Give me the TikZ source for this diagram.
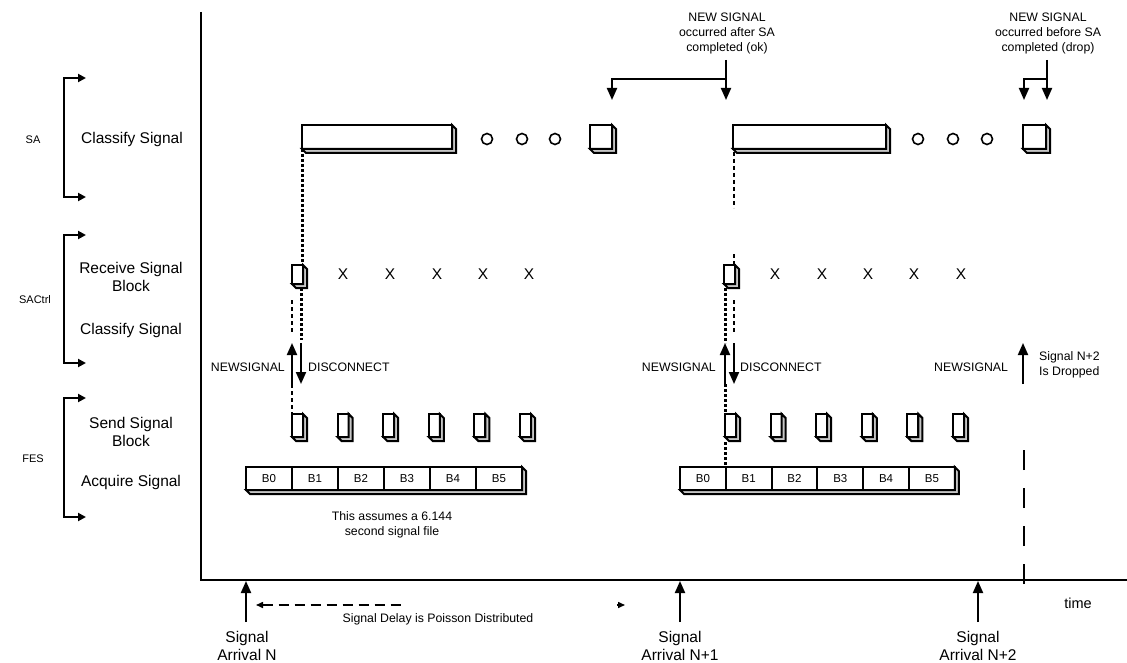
\documentclass[tikz,border=0pt]{standalone}
\usepackage{fontspec}
\setmainfont{Liberation Sans}
\usetikzlibrary{arrows.meta}
\newcommand\mkside[3]{\draw[side] (#2.north east) -- ([shift={(#3,#3)}]#2.north east) -- ([shift={(#3,#3)}]#2.south east) -- ([shift={(#3,#3)}]#1.south west) -- (#1.south west) -- (#2.south east) -- cycle;}
\begin{document}
\begin{tikzpicture}[x=1pt,y=-1pt,
  face/.style={draw, line width=2pt, fill=white, inner sep=0pt, outer sep=0pt, anchor=north west},
  side/.style={draw, line width=2pt, fill=gray!45, line join=miter},
  ring/.style={circle, draw, line width=1.6pt, minimum size=11pt, inner sep=0pt},
  big/.style={font=\fontsize{15.5}{18}\selectfont, align=center, inner sep=0pt},
  small/.style={font=\fontsize{12.3}{15}\selectfont, align=center, inner sep=0pt},
  tiny/.style={font=\fontsize{11}{13}\selectfont, inner sep=0pt},
  blab/.style={font=\fontsize{11.5}{13}\selectfont},
  axis/.style={line width=2.4pt, line join=miter},
  bracket/.style={line width=2pt, {Triangle[length=8pt,width=8pt]}-{Triangle[length=8pt,width=8pt]}},
  arr/.style={line width=2pt, -{Triangle[length=12pt,width=10pt]}},
  thickdot/.style={line width=3pt, dash pattern=on 3pt off 2pt},
  thindash/.style={line width=1.5pt, dash pattern=on 4pt off 3pt},
]
\path[use as bounding box] (0,0) rectangle (1127,663);

% axes
\coordinate (top) at (201,12);
\coordinate (orig) at (201,580);
\coordinate (xend) at (1127,580);
\draw[axis] (top) -- (orig) -- (xend);

% brackets and row labels
\coordinate (saT) at (86,78);  \coordinate (saB) at (86,197);
\coordinate (scT) at (86,235); \coordinate (scB) at (86,363);
\coordinate (feT) at (86,398); \coordinate (feB) at (86,517);
\draw[bracket] (saT) -- ++(-22,0) |- (saB);
\draw[bracket] (scT) -- ++(-22,0) |- (scB);
\draw[bracket] (feT) -- ++(-22,0) |- (feB);
\node[tiny] (lSA) at (33,140) {SA};
\node[tiny] (lSC) at (35,300) {SACtrl};
\node[tiny] (lFE) at (33,459) {FES};
\node[big] (tSA) at (132,139) {Classify Signal};
\node[big] (tRecv) at (131,277) {Receive Signal\\Block};
\node[big] (tCls) at (131,330) {Classify Signal};
\node[big] (tSend) at (131,432) {Send Signal\\Block};
\node[big] (tAcq) at (131,482) {Acquire Signal};

% SA row
\node[face, minimum width=150pt, minimum height=24pt] (sa1) at (302,125) {};
\mkside{sa1}{sa1}{4}
\node[ring] (o11) at (487,139) {};
\node[ring] (o12) at (522,139) {};
\node[ring] (o13) at (555,139) {};
\node[face, minimum width=22pt, minimum height=24pt] (sa1e) at (590,125) {};
\mkside{sa1e}{sa1e}{4}
\node[face, minimum width=153pt, minimum height=24pt] (sa2) at (733,125) {};
\mkside{sa2}{sa2}{4}
\node[ring] (o21) at (918,139) {};
\node[ring] (o22) at (953,139) {};
\node[ring] (o23) at (987,139) {};
\node[face, minimum width=23pt, minimum height=24pt] (sa2e) at (1023,125) {};
\mkside{sa2e}{sa2e}{4}

% top annotations
\node[small] (okL) at (727,33) {NEW SIGNAL\\occurred after SA\\completed (ok)};
\coordinate (okA) at (726,60); \coordinate (okT) at (726,100);
\coordinate (okB) at (726,79); \coordinate (okL2) at (612,100);
\draw[arr] (okA) -- (okT);
\draw[arr] (okB) -| (okL2);
\node[small] (drL) at (1048,33) {NEW SIGNAL\\occurred before SA\\completed (drop)};
\coordinate (drA) at (1047,60); \coordinate (drT) at (1047,100);
\coordinate (drB) at (1047,79); \coordinate (drL2) at (1024,100);
\draw[arr] (drA) -- (drT);
\draw[arr] (drB) -| (drL2);

% SACtrl row
\node[face, minimum width=11pt, minimum height=19pt] (r1) at (292,265) {};
\mkside{r1}{r1}{4}
\node[face, minimum width=11pt, minimum height=19pt] (r2) at (724,265) {};
\mkside{r2}{r2}{4}
\foreach \i/\x in {1/343,2/390,3/437,4/483,5/529}
  \node[big] (x1\i) at (\x,274) {X};
\foreach \i/\x in {1/775,2/822,3/868,4/914,5/961}
  \node[big] (x2\i) at (\x,274) {X};

% FES send blocks
\foreach \i in {0,...,5}{
  \node[face, minimum width=11pt, minimum height=23pt] (s1\i) at ({292+45.6*\i},414) {};
  \mkside{s1\i}{s1\i}{4}
  \node[face, minimum width=11pt, minimum height=23pt] (s2\i) at ({725+45.6*\i},414) {};
  \mkside{s2\i}{s2\i}{4}
}

% acquire blocks
\foreach \i in {0,...,5}{
  \node[face, blab, minimum width=46pt, minimum height=23pt] (a1\i) at ({246+46*\i},467) {B\i};
  \node[face, blab, minimum width=45.8pt, minimum height=23pt] (a2\i) at ({680+45.8*\i},467) {B\i};
}
\mkside{a10}{a15}{4}
\mkside{a20}{a25}{4}
\node[small] (assume) at (392,525) {This assumes a 6.144\\second signal file};

% group 1 timeline marks
\draw[thickdot] (sa1.south west) -- (sa1.south west |- r1.north);
\coordinate (g1d1) at (292,300); \coordinate (g1d2) at (292,334);
\coordinate (g1d3) at (292,384); \coordinate (g1d4) at (292,414);
\coordinate (g1t1) at (301,288); \coordinate (g1t2) at (301,340);
\draw[thindash] (g1d1) -- (g1d2);
\draw[thindash] (g1d3) -- (g1d4);
\draw[thickdot] (g1t1) -- (g1t2);
\coordinate (n1a) at (292,384); \coordinate (n1b) at (292,343);
\coordinate (d1a) at (301,343); \coordinate (d1b) at (301,384);
\draw[arr] (n1a) -- (n1b);
\draw[arr] (d1a) -- (d1b);
\node[small, anchor=east] (ns1) at (285,367) {NEWSIGNAL};
\node[small, anchor=west] (dc1) at (308,367) {DISCONNECT};

% group 2 timeline marks
\coordinate (g2d1) at (734,152); \coordinate (g2d2) at (734,208);
\coordinate (g2d3) at (734,254); \coordinate (g2d4) at (734,264);
\coordinate (g2d5) at (734,300); \coordinate (g2d6) at (734,334);
\draw[thindash] (g2d1) -- (g2d2);
\draw[thindash] (g2d3) -- (g2d4);
\draw[thindash] (g2d5) -- (g2d6);
\coordinate (g2t1) at (725,288); \coordinate (g2t2) at (725,343);
\coordinate (g2t3) at (725,384); \coordinate (g2t4) at (725,414);
\coordinate (g2t5) at (725,442); \coordinate (g2t6) at (725,467);
\draw[thickdot] (g2t1) -- (g2t2);
\draw[thickdot] (g2t3) -- (g2t4);
\draw[thickdot] (g2t5) -- (g2t6);
\coordinate (n2a) at (725,384); \coordinate (n2b) at (725,343);
\coordinate (d2a) at (734,343); \coordinate (d2b) at (734,384);
\draw[arr] (n2a) -- (n2b);
\draw[arr] (d2a) -- (d2b);
\node[small, anchor=east] (ns2) at (716,367) {NEWSIGNAL};
\node[small, anchor=west] (dc2) at (740,367) {DISCONNECT};

% group 3 (dropped)
\coordinate (n3a) at (1023,384); \coordinate (n3b) at (1023,343);
\draw[arr] (n3a) -- (n3b);
\node[small, anchor=west] (ns3) at (934,367) {NEWSIGNAL};
\node[small, anchor=west, align=left] (drp) at (1039,365) {Signal N+2\\Is Dropped};
\coordinate (g3a) at (1024,584); \coordinate (g3b) at (1024,450);
\draw[line width=1.4pt, dash pattern=on 20pt off 18pt] (g3a) -- (g3b);

% bottom arrivals
\coordinate (aN0) at (246,622); \coordinate (aN1) at (246,581);
\coordinate (aM0) at (680,622); \coordinate (aM1) at (680,581);
\coordinate (aP0) at (978,622); \coordinate (aP1) at (978,581);
\draw[arr] (aN0) -- (aN1);
\draw[arr] (aM0) -- (aM1);
\draw[arr] (aP0) -- (aP1);
\node[big] (sigN) at (247,646) {Signal\\Arrival N};
\node[big] (sigM) at (680,646) {Signal\\Arrival N+1};
\node[big] (sigP) at (978,646) {Signal\\Arrival N+2};
\node[font=\fontsize{14.5}{17}\selectfont, inner sep=0pt] (time) at (1078,603) {time};

% poisson delay
\coordinate (dl) at (256,605); \coordinate (dr) at (403,605);
\draw[line width=1.5pt, dash pattern=on 10pt off 6pt, {Triangle[length=7pt,width=6pt]}-] (dl) -- (dr);
\coordinate (ra0) at (617,605); \coordinate (ra) at (625,605);
\draw[line width=1.5pt, -{Triangle[length=7pt,width=6pt]}] (ra0) -- (ra);
\node[small] (pois) at (438,619) {Signal Delay is Poisson Distributed};
\end{tikzpicture}
\end{document}
